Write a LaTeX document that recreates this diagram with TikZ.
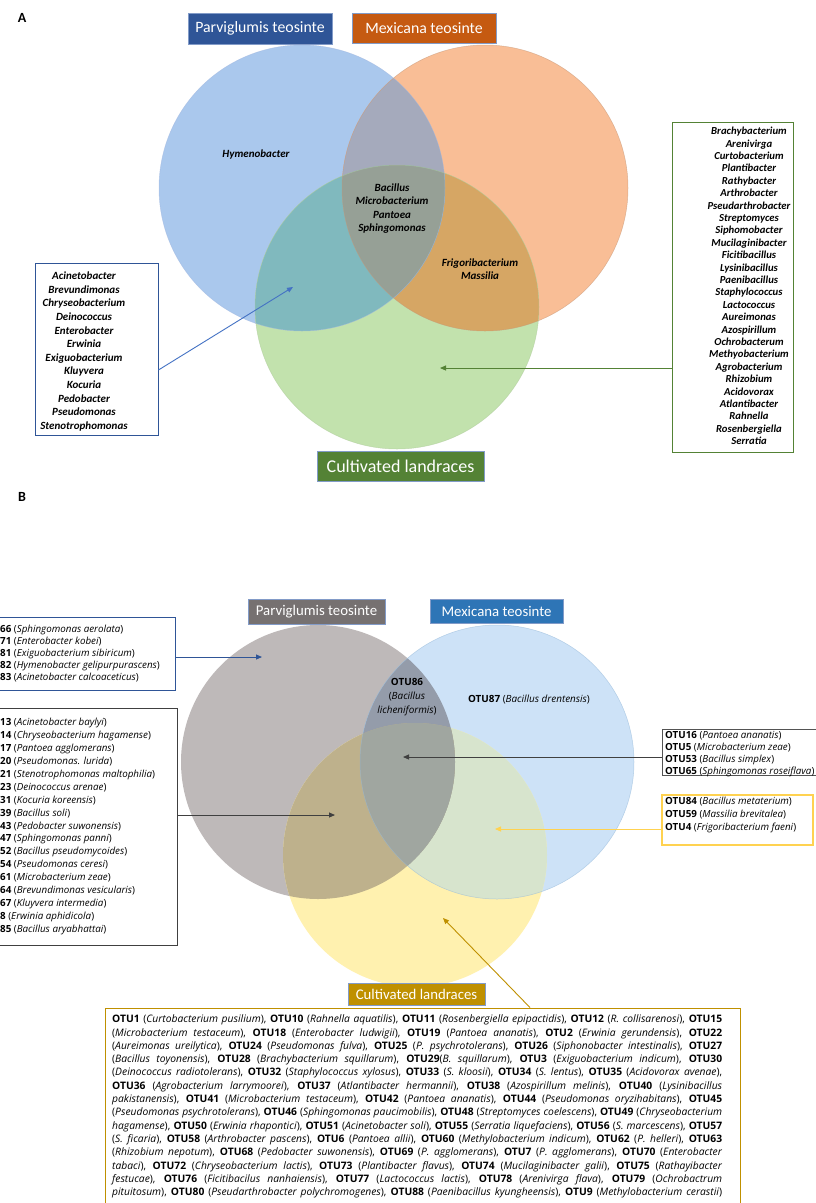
\documentclass[tikz,border=0pt]{standalone}
\usepackage{fontspec}
\setmainfont{Carlito}
\newfontfamily\otufont{Open Sans}
\usetikzlibrary{positioning,arrows.meta,calc}
% panel A colours
\definecolor{pvFillA}{RGB}{170,200,237}
\definecolor{mxFillA}{RGB}{249,190,150}
\definecolor{clFillA}{RGB}{194,226,173}
\definecolor{pmA}{RGB}{165,170,188}
\definecolor{pcA}{RGB}{128,185,190}
\definecolor{mcA}{RGB}{214,166,100}
\definecolor{allA}{RGB}{150,160,150}
\definecolor{pvTtlA}{RGB}{47,85,151}
\definecolor{mxTtlA}{RGB}{197,90,17}
\definecolor{clTtlA}{RGB}{84,130,53}
% panel B colours
\definecolor{pvFillB}{RGB}{190,185,185}
\definecolor{mxFillB}{RGB}{205,226,247}
\definecolor{clFillB}{RGB}{255,241,175}
\definecolor{pmB}{RGB}{148,156,170}
\definecolor{pcB}{RGB}{190,177,140}
\definecolor{mcB}{RGB}{215,228,205}
\definecolor{allB}{RGB}{160,166,160}
\definecolor{pvTtlB}{RGB}{118,113,113}
\definecolor{mxTtlB}{RGB}{46,117,182}
\definecolor{clTtlB}{RGB}{191,144,0}
\definecolor{ttlLine}{RGB}{130,155,200}
\definecolor{arrBlue}{RGB}{68,114,196}
\definecolor{dGrey}{RGB}{64,64,64}
\definecolor{yLine}{RGB}{255,210,80}
\tikzset{
  ttl/.style={rectangle, draw=ttlLine, line width=0.6pt, text=white,
              inner sep=0pt, align=center},
  ttlA/.style={ttl, font=\fontsize{15.8}{18}\selectfont},
  ttlB/.style={ttl, font=\fontsize{14.8}{17}\selectfont},
  lbox/.style={rectangle, line width=0.9pt, fill=white, inner sep=0pt},
  gtxt/.style={align=center, inner sep=0pt,
               font=\fontsize{11}{13.6}\selectfont\bfseries\itshape},
  otxt/.style={align=left, inner sep=0pt, font=\otufont\fontsize{9.8}{12}\selectfont},
  arr/.style={-{Triangle[length=6pt,width=5pt]}, line width=0.9pt},
  panel/.style={font=\fontsize{14}{16}\selectfont\bfseries, inner sep=0pt},
  rim/.style={line width=0.5pt, draw opacity=0.6},
}
\newcommand{\otu}[2]{\textbf{OTU#1} (\textit{#2})}
\newcommand{\oid}[1]{\textbf{OTU#1}}
\newcommand{\jline}[1]{\hbox to 610pt{#1}}

\begin{document}
\begin{tikzpicture}[x=1pt,y=-1pt]
  \useasboundingbox[fill=white] (0,0) rectangle (815,1203);

  % ---------------- panel A ----------------
  \node[panel] (labA) at (22,18) {A};
  \coordinate (pvA) at (302,188);
  \coordinate (mxA) at (485,188);
  \coordinate (clA) at (397,307);
  \fill[pvFillA] (pvA) circle (143pt);
  \fill[mxFillA] (mxA) circle (143pt);
  \fill[clFillA] (clA) circle (142pt);
  \begin{scope}
    \clip (mxA) circle (143pt);
    \fill[mcA] (clA) circle (142pt);
  \end{scope}
  \begin{scope}
    \clip (pvA) circle (143pt);
    \fill[pmA] (mxA) circle (143pt);
    \fill[pcA] (clA) circle (142pt);
    \clip (mxA) circle (143pt);
    \fill[allA] (clA) circle (142pt);
  \end{scope}
  \draw[rim, draw=arrBlue!50] (pvA) circle (143pt);
  \draw[rim, draw=mxFillA!80!black] (mxA) circle (143pt);
  \draw[rim, draw=clFillA!90!black] (clA) circle (142pt);

  \node[ttlA, fill=pvTtlA, minimum width=144pt, minimum height=31pt] (pvAt) at (260,28.5) {Parviglumis teosinte};
  \node[ttlA, fill=mxTtlA, minimum width=144pt, minimum height=30pt] (mxAt) at (424,28) {Mexicana teosinte};
  \node[ttl, fill=clTtlA, minimum width=167pt, minimum height=30pt,
        font=\fontsize{18}{20}\selectfont] (clAt) at (400.5,466) {Cultivated landraces};

  \node[gtxt] (hymA) at (256,155) {Hymenobacter};
  \node[gtxt] (coreA) at (392,208.5) {Bacillus\\Microbacterium\\Pantoea\\Sphingomonas};
  \node[gtxt] (mcAt) at (480,269) {Frigoribacterium\\Massilia};

  % genera shared by parviglumis and landraces
  \node[lbox, draw=pvTtlA, minimum width=123pt, minimum height=172pt] (lbA) at (96.5,349) {};
  \node[gtxt] (lbAt) at (84,351.5) {Acinetobacter\\Brevundimonas\\Chryseobacterium\\Deinococcus\\
    Enterobacter\\Erwinia\\Exiguobacterium\\Kluyvera\\Kocuria\\Pedobacter\\Pseudomonas\\Stenotrophomonas};
  \coordinate (lAh) at (293,287);
  \draw[arr, draw=arrBlue] ([yshift=-21pt]lbA.east) -- (lAh);

  % genera only in landraces
  \node[lbox, draw=clTtlA, minimum width=121pt, minimum height=330pt] (rbA) at (732.5,287) {};
  \node[gtxt, font=\fontsize{10.7}{12.4}\selectfont\bfseries\itshape] (rbAt) at (749,286) {Brachybacterium\\Arenivirga\\
    Curtobacterium\\Plantibacter\\Rathybacter\\Arthrobacter\\Pseudarthrobacter\\Streptomyces\\Siphomobacter\\
    Mucilaginibacter\\Ficitibacillus\\Lysinibacillus\\Paenibacillus\\Staphylococcus\\Lactococcus\\Aureimonas\\
    Azospirillum\\Ochrobacterum\\Methyobacterium\\Agrobacterium\\Rhizobium\\Acidovorax\\Atlantibacter\\
    Rahnella\\Rosenbergiella\\Serratia};
  \coordinate (rAh) at (440,368);
  \draw[arr, draw=clTtlA] (rbA.west |- rAh) -- (rAh);

  % ---------------- panel B ----------------
  \node[panel] (labB) at (22,497) {B};
  \coordinate (pvB) at (318,762);
  \coordinate (mxB) at (497,762);
  \coordinate (clB) at (415,855);
  \fill[pvFillB] (pvB) circle (137pt);
  \fill[mxFillB] (mxB) circle (137pt);
  \fill[clFillB] (clB) circle (132pt);
  \begin{scope}
    \clip (mxB) circle (137pt);
    \fill[mcB] (clB) circle (132pt);
  \end{scope}
  \begin{scope}
    \clip (pvB) circle (137pt);
    \fill[pmB] (mxB) circle (137pt);
    \fill[pcB] (clB) circle (132pt);
    \clip (mxB) circle (137pt);
    \fill[allB] (clB) circle (132pt);
  \end{scope}
  \draw[rim, draw=mxTtlB!50] (mxB) circle (137pt);

  \node[ttlB, fill=pvTtlB, minimum width=137pt, minimum height=25pt] (pvBt) at (316.5,611.5) {Parviglumis teosinte};
  \node[ttlB, fill=mxTtlB, minimum width=133pt, minimum height=24pt] (mxBt) at (496.5,611) {Mexicana teosinte};
  \node[ttlB, fill=clTtlB, minimum width=137pt, minimum height=22pt] (clBt) at (416.5,994) {Cultivated landraces};

  \node[otxt, align=center, font=\otufont\fontsize{9.9}{14}\selectfont] (pmBt) at (407,697)
    {\textbf{OTU86}\\(\textit{Bacillus}\\\textit{licheniformis})};
  \node[otxt, font=\otufont\fontsize{9.9}{14}\selectfont] (mxBo) at (529,700) {\otu{87}{Bacillus drentensis}};

  % OTUs only in parviglumis
  \node[lbox, draw=pvTtlA, minimum width=185pt, minimum height=73pt] (tlB) at (82.5,653.5) {};
  \node[otxt, anchor=west] (tlBt) at (0,654) {\textbf{66} (\textit{Sphingomonas aerolata})\\
    \textbf{71} (\textit{Enterobacter kobei})\\\textbf{81} (\textit{Exiguobacterium sibiricum})\\
    \textbf{82} (\textit{Hymenobacter gelipurpurascens})\\\textbf{83} (\textit{Acinetobacter calcoaceticus})};
  \coordinate (tlBh) at (262,657);
  \draw[arr, draw=pvTtlA] (tlB.east |- tlBh) -- (tlBh);

  % OTUs shared by parviglumis and landraces
  \node[lbox, draw=dGrey, minimum width=187pt, minimum height=237pt] (llB) at (83.5,826.5) {};
  \node[otxt, anchor=west, font=\otufont\fontsize{9.8}{12.9}\selectfont] (llBt) at (0,826.5) {\textbf{13} (\textit{Acinetobacter baylyi})\\
    \textbf{14} (\textit{Chryseobacterium hagamense})\\\textbf{17} (\textit{Pantoea agglomerans})\\
    \textbf{20} (\textit{Pseudomonas. lurida})\\\textbf{21} (\textit{Stenotrophomonas maltophilia})\\
    \textbf{23} (\textit{Deinococcus arenae})\\\textbf{31} (\textit{Kocuria koreensis})\\
    \textbf{39} (\textit{Bacillus soli})\\\textbf{43} (\textit{Pedobacter suwonensis})\\
    \textbf{47} (\textit{Sphingomonas panni})\\\textbf{52} (\textit{Bacillus pseudomycoides})\\
    \textbf{54} (\textit{Pseudomonas ceresi})\\\textbf{61} (\textit{Microbacterium zeae})\\
    \textbf{64} (\textit{Brevundimonas vesicularis})\\\textbf{67} (\textit{Kluyvera intermedia})\\
    \textbf{8} (\textit{Erwinia aphidicola})\\\textbf{85} (\textit{Bacillus aryabhattai})};
  \coordinate (llBh) at (335,815);
  \draw[arr, draw=dGrey] (llB.east |- llBh) -- (llBh);

  % OTUs shared by all three
  \node[lbox, draw=dGrey!90, minimum width=168pt, minimum height=46pt] (rbB) at (746,752.5) {};
  \node[otxt, anchor=west] (rbBt) at (665,754.5) {\otu{16}{Pantoea ananatis}\\
    \otu{5}{Microbacterium zeae}\\\otu{53}{Bacillus simplex}\\\otu{65}{Sphingomonas roseiflava}};
  \coordinate (rbBh) at (403,757);
  \draw[arr, draw=dGrey] (rbB.west |- rbBh) -- (rbBh);

  % OTUs shared by mexicana and landraces
  \node[lbox, draw=yLine, line width=1.1pt, minimum width=151pt, minimum height=50pt] (ybB) at (737.5,820) {};
  \node[otxt, anchor=west, font=\otufont\fontsize{9.8}{13}\selectfont] (ybBt) at (665,815) {\otu{84}{Bacillus metaterium}\\
    \otu{59}{Massilia brevitalea}\\\otu{4}{Frigoribacterium faeni}};
  \coordinate (ybBh) at (495,829);
  \draw[arr, draw=yLine] (ybB.west |- ybBh) -- (ybBh);

  % OTUs only in landraces
  \node[lbox, draw=clTtlB, minimum width=635pt, minimum height=197pt] (bbB) at (422.5,1106.5) {};
  \node[otxt, anchor=west, font=\otufont\fontsize{10.3}{13.3}\selectfont] (bbBt) at (112,1106.5) {%
    \jline{\otu{1}{Curtobacterium pusilium}, \otu{10}{Rahnella aquatilis}, \otu{11}{Rosenbergiella epipactidis}, \otu{12}{R. collisarenosi}, \oid{15}}\\
    \jline{(\textit{Microbacterium testaceum}), \otu{18}{Enterobacter ludwigii}, \otu{19}{Pantoea ananatis}, \otu{2}{Erwinia gerundensis}, \oid{22}}\\
    \jline{(\textit{Aureimonas ureilytica}), \otu{24}{Pseudomonas fulva}, \otu{25}{P. psychrotolerans}, \otu{26}{Siphonobacter intestinalis}, \oid{27}}\\
    \jline{(\textit{Bacillus toyonensis}), \otu{28}{Brachybacterium squillarum}, \oid{29}(\textit{B. squillarum}), \otu{3}{Exiguobacterium indicum}, \oid{30}}\\
    \jline{(\textit{Deinococcus radiotolerans}), \otu{32}{Staphylococcus xylosus}, \otu{33}{S. kloosii}, \otu{34}{S. lentus}, \otu{35}{Acidovorax avenae},}\\
    \jline{\otu{36}{Agrobacterium larrymoorei}, \otu{37}{Atlantibacter hermannii}, \otu{38}{Azospirillum melinis}, \oid{40} (\textit{Lysinibacillus}}\\
    \jline{\textit{pakistanensis}), \otu{41}{Microbacterium testaceum}, \otu{42}{Pantoea ananatis}, \otu{44}{Pseudomonas oryzihabitans}, \oid{45}}\\
    \jline{(\textit{Pseudomonas psychrotolerans}), \otu{46}{Sphingomonas paucimobilis}, \otu{48}{Streptomyces coelescens}, \oid{49} (\textit{Chryseobacterium}}\\
    \jline{\textit{hagamense}), \otu{50}{Erwinia rhapontici}, \otu{51}{Acinetobacter soli}, \otu{55}{Serratia liquefaciens}, \otu{56}{S. marcescens}, \oid{57}}\\
    \jline{(\textit{S. ficaria}), \otu{58}{Arthrobacter pascens}, \otu{6}{Pantoea allii}, \otu{60}{Methylobacterium indicum}, \otu{62}{P. helleri}, \oid{63}}\\
    \jline{(\textit{Rhizobium nepotum}), \otu{68}{Pedobacter suwonensis}, \otu{69}{P. agglomerans}, \otu{7}{P. agglomerans}, \oid{70} (\textit{Enterobacter}}\\
    \jline{\textit{tabaci}), \otu{72}{Chryseobacterium lactis}, \otu{73}{Plantibacter flavus}, \otu{74}{Mucilaginibacter galii}, \oid{75} (\textit{Rathayibacter}}\\
    \jline{\textit{festucae}), \otu{76}{Ficitibacilus nanhaiensis}, \otu{77}{Lactococcus lactis}, \otu{78}{Arenivirga flava}, \oid{79} (\textit{Ochrobactrum}}\\
    \jline{\textit{pituitosum}), \otu{80}{Pseudarthrobacter polychromogenes}, \otu{88}{Paenibacillus kyungheensis}, \otu{9}{Methylobacterium cerastii}}};
  \coordinate (bbBh) at (443,918);
  \draw[arr, draw=clTtlB] ([xshift=107.5pt]bbB.north) -- (bbBh);
\end{tikzpicture}
\end{document}
